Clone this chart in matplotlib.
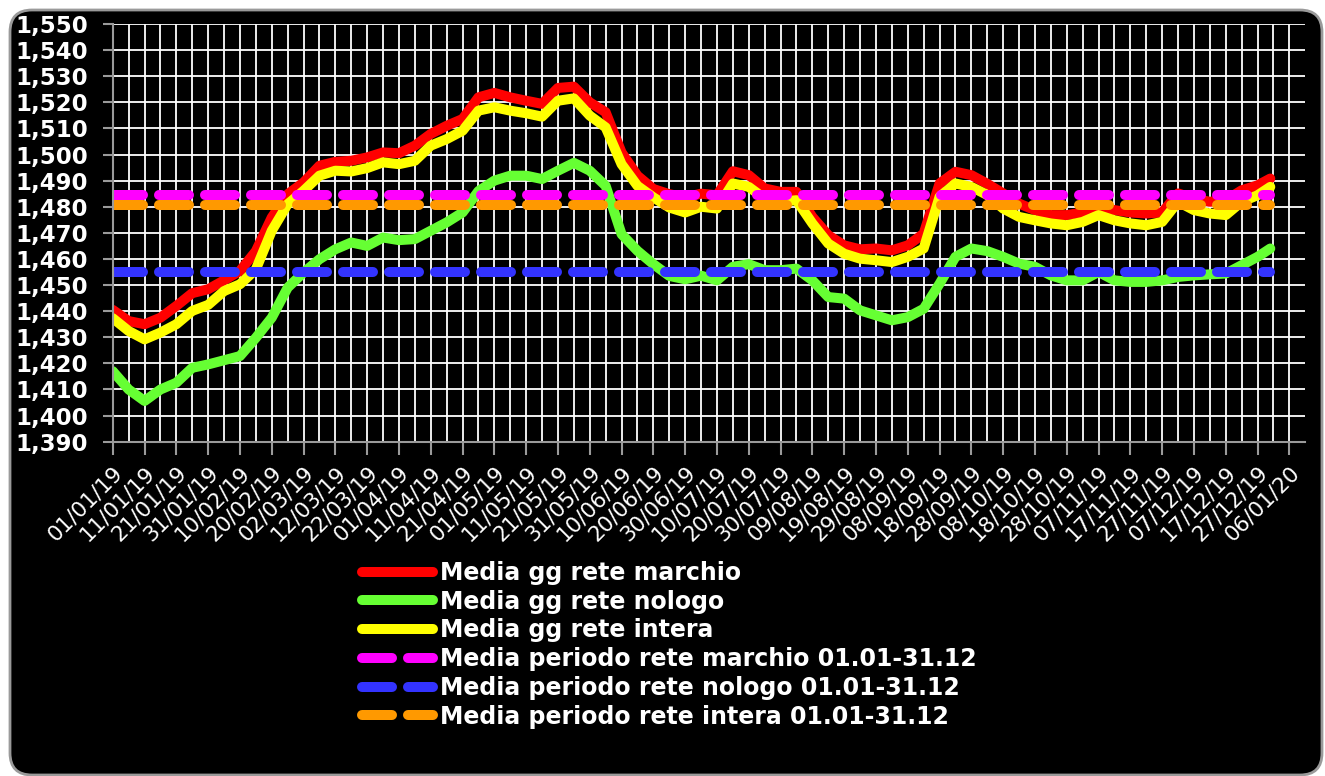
import datetime as dt
import matplotlib
matplotlib.use("Agg")
import matplotlib.pyplot as plt
from matplotlib.patches import FancyBboxPatch
from matplotlib.ticker import FixedLocator, FuncFormatter, MultipleLocator

plt.rcParams['font.family'] = ['DejaVu Sans']

# giorni dal 01/01/19 (campioni letti ogni 5 giorni)
days = list(range(0, 365, 5)) + [364]

marchio = [1.4405, 1.4362, 1.4350, 1.4375, 1.4420, 1.4469, 1.4484, 1.4518, 1.4554, 1.4630,
           1.4759, 1.4848, 1.4893, 1.4957, 1.4972, 1.4976, 1.4989, 1.5008, 1.5005, 1.5034,
           1.5079, 1.5110, 1.5136, 1.5219, 1.5236, 1.5219, 1.5206, 1.5194, 1.5255, 1.5260,
           1.5200, 1.5162, 1.5008, 1.4919, 1.4868, 1.4848, 1.4836, 1.4850, 1.4844, 1.4936,
           1.4921, 1.4870, 1.4857, 1.4857, 1.4761, 1.4691, 1.4652, 1.4637, 1.4640, 1.4633,
           1.4652, 1.4697, 1.4889, 1.4934, 1.4921, 1.4888, 1.4851, 1.4812, 1.4787, 1.4768,
           1.4768, 1.4778, 1.4800, 1.4787, 1.4778, 1.4774, 1.4778, 1.4851, 1.4831, 1.4819,
           1.4825, 1.4863, 1.4882, 1.4908]

nologo = [1.4170, 1.4100, 1.4056, 1.4100, 1.4126, 1.4183, 1.4196, 1.4212, 1.4228, 1.4298,
          1.4375, 1.4490, 1.4548, 1.4599, 1.4637, 1.4663, 1.4650, 1.4682, 1.4672, 1.4676,
          1.4708, 1.4740, 1.4778, 1.4860, 1.4900, 1.4919, 1.4919, 1.4906, 1.4938, 1.4968,
          1.4938, 1.4880, 1.4695, 1.4631, 1.4580, 1.4535, 1.4522, 1.4536, 1.4518, 1.4570,
          1.4580, 1.4557, 1.4557, 1.4563, 1.4518, 1.4454, 1.4448, 1.4403, 1.4384, 1.4365,
          1.4377, 1.4409, 1.4505, 1.4608, 1.4640, 1.4630, 1.4608, 1.4582, 1.4570, 1.4537,
          1.4518, 1.4518, 1.4550, 1.4518, 1.4512, 1.4512, 1.4518, 1.4531, 1.4537, 1.4541,
          1.4544, 1.4576, 1.4608, 1.4640]

intera = [1.4373, 1.4324, 1.4292, 1.4318, 1.4350, 1.4401, 1.4424, 1.4477, 1.4503, 1.4560,
          1.4708, 1.4810, 1.4861, 1.4919, 1.4938, 1.4935, 1.4948, 1.4970, 1.4963, 1.4976,
          1.5034, 1.5059, 1.5091, 1.5168, 1.5181, 1.5168, 1.5158, 1.5145, 1.5206, 1.5215,
          1.5149, 1.5104, 1.4963, 1.4880, 1.4836, 1.4797, 1.4778, 1.4800, 1.4793, 1.4889,
          1.4876, 1.4831, 1.4819, 1.4825, 1.4736, 1.4659, 1.4620, 1.4601, 1.4595, 1.4588,
          1.4608, 1.4640, 1.4838, 1.4889, 1.4876, 1.4845, 1.4793, 1.4761, 1.4748, 1.4736,
          1.4729, 1.4742, 1.4768, 1.4748, 1.4736, 1.4729, 1.4742, 1.4819, 1.4787, 1.4774,
          1.4768, 1.4819, 1.4844, 1.4876]

media_marchio = 1.4845
media_nologo = 1.4550
media_intera = 1.4805

start = dt.date(2019, 1, 1)

fig = plt.figure(figsize=(13.25, 7.76), dpi=100, facecolor='white')
frame = FancyBboxPatch((10, 1), 1312, 765, boxstyle='round,pad=0,rounding_size=22',
                       transform=None, facecolor='black', edgecolor='#9a9a9a', linewidth=2,
                       zorder=-10)
fig.patches.append(frame)

ax = fig.add_axes([0.0851, 0.4308, 0.900, 0.5383])
ax.set_facecolor('black')

lw = 7.2
ax.plot(days, marchio, color='#ff0000', lw=lw, solid_capstyle='round', label='Media gg rete marchio')
ax.plot(days, nologo, color='#66ff33', lw=lw, solid_capstyle='round', label='Media gg rete nologo')
ax.plot(days, intera, color='#ffff00', lw=lw, solid_capstyle='round', label='Media gg rete intera')

xs = [days[0], days[-1]]
dash = (3.0, 1.6)
ax.plot(xs, [media_marchio] * 2, color='#ff00ff', lw=lw, dashes=dash, dash_capstyle='round',
        label='Media periodo rete marchio 01.01-31.12')
ax.plot(xs, [media_nologo] * 2, color='#3333ff', lw=lw, dashes=dash, dash_capstyle='round',
        label='Media periodo rete nologo 01.01-31.12')
ax.plot(xs, [media_intera] * 2, color='#ff9900', lw=lw, dashes=dash, dash_capstyle='round',
        label='Media periodo rete intera 01.01-31.12')

ax.set_ylim(1.39, 1.55)
ax.set_xlim(0, 375)
ax.yaxis.set_major_locator(MultipleLocator(0.01))
ax.yaxis.set_major_formatter(FuncFormatter(lambda v, p: f"{v:.3f}".replace('.', ',')))
ax.xaxis.set_major_locator(FixedLocator(list(range(0, 371, 10))))
ax.xaxis.set_minor_locator(FixedLocator(list(range(0, 371, 5))))
ax.xaxis.set_major_formatter(FuncFormatter(
    lambda v, p: (start + dt.timedelta(days=int(round(v)))).strftime('%d/%m/%y')))

ax.grid(which='both', axis='x', color='white', lw=1.3)
ax.grid(which='major', axis='y', color='white', lw=1.3)
ax.set_axisbelow(True)

for s in ['top', 'right']:
    ax.spines[s].set_visible(False)
for s in ['left', 'bottom']:
    ax.spines[s].set_color('#9a9a9a')
    ax.spines[s].set_linewidth(1.5)

ax.tick_params(axis='y', which='major', colors='#9a9a9a', length=7, width=1.5,
               labelcolor='white', labelsize=16.5, pad=11)
ax.tick_params(axis='x', which='major', colors='#9a9a9a', length=9, width=1.5,
               labelcolor='white', labelsize=15.5, pad=6)
ax.tick_params(axis='x', which='minor', length=0)
for t in ax.get_yticklabels():
    t.set_fontweight('bold')
for t in ax.get_xticklabels():
    t.set_rotation(45)
    t.set_ha('right')
    t.set_va('top')
    t.set_rotation_mode('anchor')

fig.legend(loc='upper left', bbox_to_anchor=(362 / 1325, 1 - 561 / 776), frameon=False,
           prop={'size': 17, 'weight': 'bold'}, labelcolor='white', handlelength=3.0,
           handletextpad=0.3, labelspacing=0.2, borderpad=0, borderaxespad=0)

fig.savefig('out.png', dpi=100, facecolor='white')
